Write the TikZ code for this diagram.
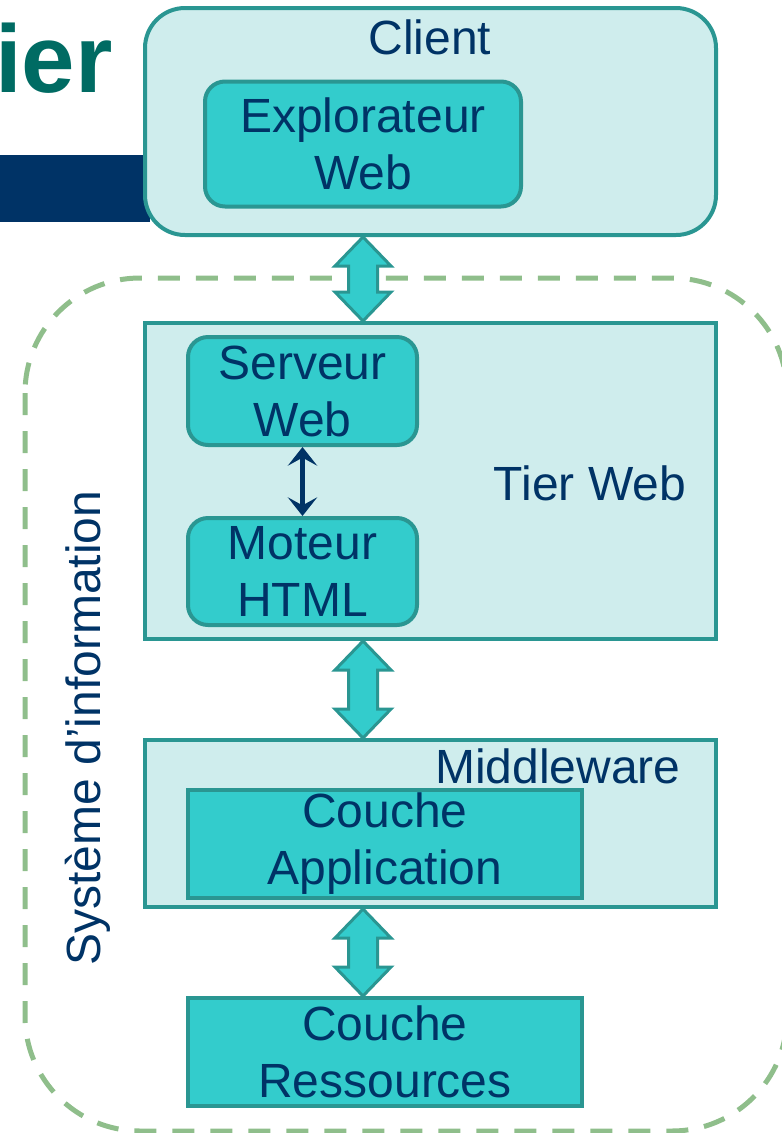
\documentclass[tikz,border=0pt]{standalone}
\usepackage{fontspec}
\setmainfont{Liberation Sans}
\usetikzlibrary{arrows.meta,calc}

\definecolor{navy}{HTML}{003366}
\definecolor{tealline}{HTML}{2A9692}
\definecolor{palefill}{HTML}{CFEDED}
\definecolor{cyanfill}{HTML}{33CCCC}
\definecolor{dashgreen}{HTML}{8FBE8B}
\definecolor{titleteal}{HTML}{006B63}

\newcommand{\bodyfont}{\fontsize{36}{42.75}\selectfont}

\tikzset{
  tierbox/.style={draw=tealline, line width=3pt, fill=palefill, inner sep=0pt},
  layerbox/.style={draw=tealline, line width=3pt, fill=cyanfill, text=navy, align=center, inner sep=0pt, font=\bodyfont},
  txt/.style={text=navy, inner sep=0pt, font=\bodyfont},
  sysbox/.style={draw=dashgreen, line width=3.75pt, dash pattern=on 16.5pt off 12pt, rounded corners=86.25pt},
  bigarrow/.style={draw=tealline, line width=2.25pt, fill=cyanfill, line join=miter},
  linkarrow/.style={navy, line width=3.75pt, {Stealth[length=14pt,width=22pt,inset=6pt]}-{Stealth[length=14pt,width=22pt,inset=6pt]}},
}

% double block arrow between two tips (head 56 wide, shaft 29 wide)
\newcommand{\dblarrow}[2]{%
  \draw[bigarrow] (#1) -- ++(28,29) -- ++(-13.5,0) -- ($(#2)+(14.5,-29)$) -- ++(13.5,0)
    -- (#2) -- ++(-28,-29) -- ++(13.5,0) -- ($(#1)+(-14.5,29)$) -- ++(-13.5,0) -- cycle;}

\begin{document}
\begin{tikzpicture}[x=0.75pt,y=0.75pt,yscale=-1,xscale=1]
\useasboundingbox (0,0) rectangle (782,1133);

%Shape: Dashed Rounded Rectangle
\draw[sysbox] (25,278) rectangle (787,1131);

%Shape: Title Bar
\fill[navy] (0,155) rectangle (150,222);
% Text Node
\node[anchor=base east, text=titleteal, inner sep=0pt, font=\fontsize{72}{80}\selectfont\bfseries] (title) at (113,92) {ier};

%Shape: Tier Boxes
\node[tierbox, rounded corners=30pt, minimum width=428.25pt, minimum height=170.25pt] (client) at (430.5,121.5) {};
\node[tierbox, minimum width=428.25pt, minimum height=237pt] (tierweb) at (430.5,481) {};
\node[tierbox, minimum width=428.25pt, minimum height=125.25pt] (middleware) at (430.5,823.5) {};

%Shape: Layer Boxes
\node[layerbox, rounded corners=15pt, minimum width=237pt, minimum height=93.75pt] (explorateur) at (363,144) {Explorateur\\Web};
\node[layerbox, rounded corners=15pt, minimum width=171.75pt, minimum height=81pt] (serveur) at (302.5,391) {Serveur\\Web};
\node[layerbox, rounded corners=15pt, minimum width=171.75pt, minimum height=80.25pt] (moteur) at (302.5,571.5) {Moteur\\HTML};
\node[layerbox, minimum width=295.5pt, minimum height=81pt] (application) at (385,844) {Couche\\Application};
\node[layerbox, minimum width=295.5pt, minimum height=81pt] (ressources) at (385,1052) {Couche\\Ressources};

%Shape: Block Arrows
\coordinate (axis) at (363,0);
\dblarrow{axis |- client.south}{axis |- tierweb.north}
\dblarrow{axis |- tierweb.south}{axis |- middleware.north}
\dblarrow{axis |- middleware.south}{axis |- ressources.north}

%Straight Lines
\draw[linkarrow] (serveur.south) -- (moteur.north);

% Text Node
\node[txt, anchor=base] (clientlbl) at (430,54) {Client};
% Text Node
\node[txt, anchor=base] (tierweblbl) at (590,500) {Tier Web};
% Text Node
\node[txt, anchor=base west] (middlewarelbl) at (435,783) {Middleware};
% Text Node
\node[txt, anchor=base, rotate=90] (syslbl) at (100,728) {Système d’information};

\end{tikzpicture}
\end{document}
